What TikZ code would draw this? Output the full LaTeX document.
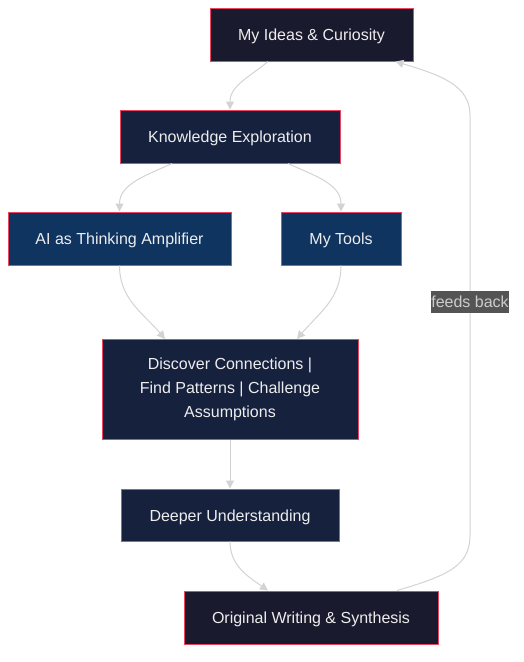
\documentclass[tikz,border=0pt]{standalone}
\usepackage{fontspec}
\setmainfont{Liberation Sans}
\usepackage{xcolor}
\usetikzlibrary{arrows.meta,positioning}

\definecolor{boxdark}{HTML}{1A1A2E}
\definecolor{boxmid}{HTML}{16213E}
\definecolor{boxblue}{HTML}{0F3460}
\definecolor{boxline}{HTML}{E94560}
\definecolor{edgegray}{HTML}{D3D3D3}

\begin{document}
\begin{tikzpicture}[x=0.75pt, y=-0.75pt]
        \tikzstyle{box} = [draw=boxline, line width=0.75pt, inner sep=0pt,
            minimum height=39.75pt, text=white!93!black, align=center,
            font=\fontsize{12}{18}\selectfont]
        \tikzstyle{line1} = [text height=11.5pt, text depth=2.5pt]
        \tikzstyle{edge} = [draw=edgegray, line width=0.75pt,
            -{Triangle[width=6pt, length=6pt]}]
        \tikzstyle{lbl} = [fill=black!67, text=white!80!black, inner xsep=0pt,
            minimum height=16.5pt, font=\fontsize{12}{14}\selectfont]
        \useasboundingbox (0,0) rectangle (524,662);
        \node[box, line1, fill=boxdark, minimum width=152.25pt] (ideas) at (311.5,34.5) {My Ideas \& Curiosity};
        \node[box, line1, fill=boxmid, minimum width=165pt] (know) at (230,136.5) {Knowledge Exploration};
        \node[box, line1, fill=boxblue, minimum width=167.25pt] (ai) at (119.5,238.5) {AI as Thinking Amplifier};
        \node[box, line1, fill=boxblue, minimum width=90pt] (tools) at (341,238.5) {My Tools};
        \node[box, fill=boxmid, minimum width=192pt, minimum height=75pt] (disc) at (230,389.5)
            {Discover Connections |\\ Find Patterns | Challenge\\ Assumptions};
        \node[box, line1, fill=boxmid, minimum width=163.5pt, minimum height=39pt] (deeper) at (230,515) {Deeper Understanding};
        \node[box, line1, fill=boxdark, minimum width=190.5pt] (orig) at (311,617.5) {Original Writing \& Synthesis};
        % links
        \draw[edge] ([xshift=-32.6pt]ideas.south) to[out=-140, in=90] (know.north);
        \draw[edge] ([xshift=-43.5pt]know.south) to[out=-155, in=90] (ai.north);
        \draw[edge] ([xshift=43.5pt]know.south) to[out=-25, in=90] (tools.north);
        \draw[edge] (ai.south) to[out=-90, in=130] ([xshift=-48.75pt]disc.north);
        \draw[edge] (tools.south) to[out=-90, in=50] ([xshift=50.25pt]disc.north);
        \draw[edge] (disc) -- (deeper);
        \draw[edge] (deeper.south) to[out=-90, in=145] ([xshift=-32.25pt]orig.north);
        \draw[edge] ([xshift=64.5pt]orig.north) .. controls (450,575) and (470,565) .. (470,535)
            -- node[lbl, pos=0.555] (fb) {feeds back} (470,115)
            .. controls (470,85) and (440,75) .. ([xshift=63pt]ideas.south);
\end{tikzpicture}
\end{document}
